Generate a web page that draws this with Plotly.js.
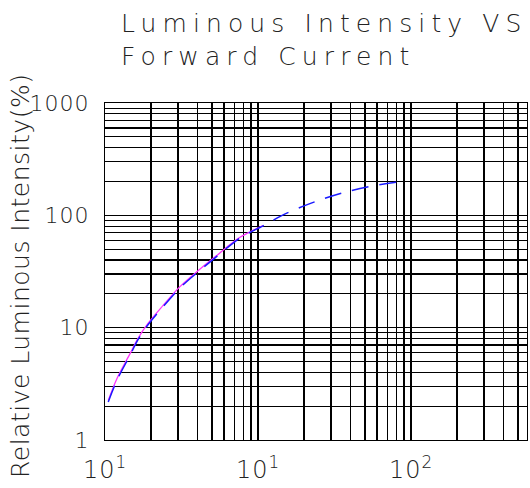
<!DOCTYPE html>
<html>
<head>
<meta charset="utf-8">
<script src="https://cdn.plot.ly/plotly-3.0.1.min.js"></script>
<style>
html,body{margin:0;padding:0;background:#fff;}
#chart{width:530px;height:488px;}
.gtitle{letter-spacing:6.1px;}
.annotation-text{letter-spacing:0.5px;}
.xtick text,.ytick text{letter-spacing:1px;}
</style>
</head>
<body>
<div id="chart"></div>
<script>
// Forward current (mA) and relative luminous intensity (%)
const currentDashed = [1.05, 1.20, 1.46, 1.64, 1.91, 2.39, 3.09, 4.18, 5.24, 6.27, 7.63, 9.85, 10.8, 14.6, 22.5, 35.4, 56.5, 92.8];
const intensityDashed = [2.18, 3.42, 5.71, 7.77, 10.6, 15.3, 22.6, 32.5, 41.8, 51.3, 62.9, 75.7, 80.5, 101, 129, 158, 183, 202];
const currentSolid = [1.05, 1.20, 1.46, 1.64, 1.91, 2.39, 3.09, 4.18, 5.24, 6.27, 7.63, 9.85, 10.8];
const intensitySolid = [2.25, 3.55, 5.9, 8.0, 10.9, 15.7, 23.2, 33.3, 42.7, 52.2, 63.8, 76.5, 81.2];

const xTickVals = [1, 10, 100];
const xTickText = ['10<sup>1</sup>', '10<sup>1</sup>', '10<sup>2</sup>'];
const xMinorGrid = [2,3,4,5,6,7,8,9,20,30,40,50,60,70,80,90,200,300,400,500];
const yTickVals = [1, 10, 100, 1000];
const yTickText = ['1', '10', '100', '1000'];
const yMinorGrid = [2,3,4,5,6,7,8,9,20,30,40,50,60,70,80,90,200,300,400,500,600,700,800,900];
const yTitle = 'Relative Luminous Intensity(%)';

const FONT = 'DejaVu Sans';
const traces = [
  {x: currentSolid, y: intensitySolid, mode: 'lines', line: {color: '#ff33ff', width: 1.3, shape: 'spline'}, hoverinfo: 'skip'},
  {x: currentDashed, y: intensityDashed, mode: 'lines', line: {color: '#1a1aff', width: 1.5, dash: '17px,11px', shape: 'spline'}, hoverinfo: 'skip'}
];

const gridStyle = {showgrid: true, gridcolor: '#000', gridwidth: 1.2, ticks: ''};

const layout = {
  width: 530, height: 488,
  margin: {l: 105, r: 3, t: 103, b: 48},
  paper_bgcolor: '#fff', plot_bgcolor: '#fff',
  showlegend: false,
  font: {family: FONT, color: '#222', weight: 200},
  title: {
    text: 'Luminous Intensity VS<br>Forward Current',
    font: {family: FONT, size: 25, color: '#222', weight: 200},
    xref: 'container', yref: 'container', x: 121/530, xanchor: 'left', y: 1 - 32/488, yanchor: 'top'
  },
  xaxis: {
    type: 'log', range: [0, Math.log10(573)],
    tickmode: 'array', tickvals: xTickVals, ticktext: xTickText,
    showgrid: true, gridcolor: '#000', gridwidth: 1.2,
    minor: Object.assign({tickmode: 'array', tickvals: xMinorGrid}, gridStyle),
    showline: true, linecolor: '#000', linewidth: 1.2, mirror: true,
    ticks: '', zeroline: false, ticklabelstandoff: 8,
    tickfont: {family: FONT, size: 24, color: '#222', weight: 200}
  },
  yaxis: {
    type: 'log', range: [0, 3],
    tickmode: 'array', tickvals: yTickVals, ticktext: yTickText,
    showgrid: true, gridcolor: '#000', gridwidth: 1.2,
    minor: Object.assign({tickmode: 'array', tickvals: yMinorGrid}, gridStyle),
    showline: true, linecolor: '#000', linewidth: 1.2, mirror: true,
    ticks: '', zeroline: false, ticklabelstandoff: 10,
    tickfont: {family: FONT, size: 22, color: '#222', weight: 200}
  },
  annotations: [{
    text: yTitle, textangle: -90, showarrow: false,
    xref: 'paper', yref: 'paper', x: (20 - 105) / 422, y: (440 - 276) / 337,
    xanchor: 'center', yanchor: 'middle',
    font: {family: FONT, size: 25, color: '#222', weight: 200}
  }]
};

Plotly.newPlot('chart', traces, layout, {staticPlot: true, displayModeBar: false});
</script>
</body>
</html>
